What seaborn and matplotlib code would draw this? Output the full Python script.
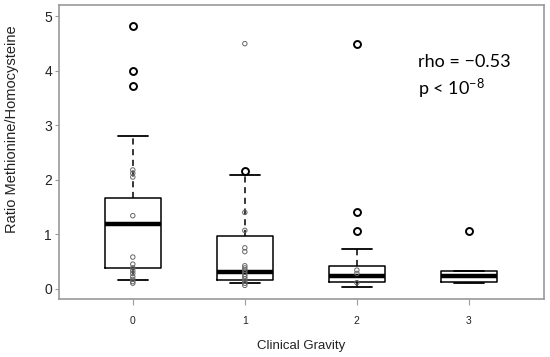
import numpy as np
import pandas as pd
import matplotlib
matplotlib.use("Agg")
import matplotlib.pyplot as plt
import seaborn as sns

# clinical gravity groups
groups = [0, 1, 2, 3]

# box statistics
q1 = [0.38, 0.16, 0.12, 0.12]
med = [1.19, 0.31, 0.23, 0.23]
q3 = [1.67, 0.96, 0.42, 0.33]
whis_lo = [0.15, 0.10, 0.03, 0.10]
whis_hi = [2.80, 2.08, 0.73, 0.33]
outliers = [[3.72, 4.00, 4.83], [2.17], [1.06, 1.40, 4.50], [1.05]]

# individual observations overlaid as small grey circles
raw_g0 = [2.18, 2.12, 2.05, 1.34, 0.58, 0.45, 0.38, 0.33, 0.28, 0.22, 0.17, 0.13, 0.10]
raw_g1 = [4.50, 1.40, 1.07, 0.75, 0.68, 0.42, 0.38, 0.34, 0.30, 0.26, 0.22, 0.18, 0.14, 0.10, 0.06]
raw_g2 = [0.34, 0.28, 0.11]

sns.set_style("white")
plt.rcParams["font.family"] = ["Liberation Sans", "DejaVu Sans"]
plt.rcParams["mathtext.fontset"] = "custom"
plt.rcParams["mathtext.rm"] = "Lato"
plt.rcParams["mathtext.it"] = "Lato"

raw = pd.DataFrame({
    "gravity": [0] * len(raw_g0) + [1] * len(raw_g1) + [2] * len(raw_g2),
    "ratio": raw_g0 + raw_g1 + raw_g2,
})

fig = plt.figure(figsize=(5.5, 3.57), dpi=100)
ax = fig.add_axes([0.107, 0.1625, 0.882, 0.8235])

stats = []
for i in range(len(groups)):
    stats.append(dict(med=med[i], q1=q1[i], q3=q3[i], whislo=whis_lo[i],
                      whishi=whis_hi[i], fliers=outliers[i]))

ax.bxp(stats, positions=groups, widths=0.5, capwidths=0.27, manage_ticks=False,
       boxprops=dict(color="black", linewidth=1.1),
       medianprops=dict(color="black", linewidth=3.2, solid_capstyle="butt"),
       whiskerprops=dict(color="black", linewidth=1.1, linestyle=(0, (4, 3))),
       capprops=dict(color="black", linewidth=1.3),
       flierprops=dict(marker="o", markersize=5, markerfacecolor="none",
                       markeredgecolor="black", markeredgewidth=1.4))

n_before = len(ax.collections)
sns.stripplot(data=raw, x="gravity", y="ratio", order=groups, jitter=False,
              size=3.2, ax=ax, zorder=5)
for coll in ax.collections[n_before:]:
    coll.set_facecolor("none")
    coll.set_edgecolor("0.4")
    coll.set_linewidth(0.7)

ax.set_xlim(-0.66, 3.67)
ax.set_ylim(-0.19, 5.21)
ax.set_xticks(groups)
ax.set_xticklabels([str(g) for g in groups])
ax.set_yticks([0, 1, 2, 3, 4, 5])

for side in ["left", "right", "top", "bottom"]:
    ax.spines[side].set_visible(True)
    ax.spines[side].set_color("#9a9a9a")
    ax.spines[side].set_linewidth(1.2)

ax.tick_params(axis="y", which="both", left=True, length=3, width=0.8,
               color="#9a9a9a", pad=2, labelsize=10, labelcolor="#222222")
ax.tick_params(axis="x", which="both", bottom=True, length=4.3, width=0.8,
               color="#9a9a9a", pad=8, labelsize=7.5, labelcolor="#222222")

ax.set_xlabel("Clinical Gravity", fontsize=9.5, color="#222222", va="center")
ax.xaxis.set_label_coords(0.5, -0.16)
ax.set_ylabel("Ratio Methionine/Homocysteine", fontsize=10.5, color="#222222", va="center")
ax.yaxis.set_label_coords(-0.097, 0.578)

ax.text(2.545, 4.16, "rho = \u22120.53", fontsize=13, family="Lato", va="center",
        ha="left", color="black")
ax.text(2.545, 3.66, r"p < 10$^{\mathrm{-8}}$", fontsize=13, family="Lato", va="center",
        ha="left", color="black")

fig.savefig("out.png", dpi=100)
